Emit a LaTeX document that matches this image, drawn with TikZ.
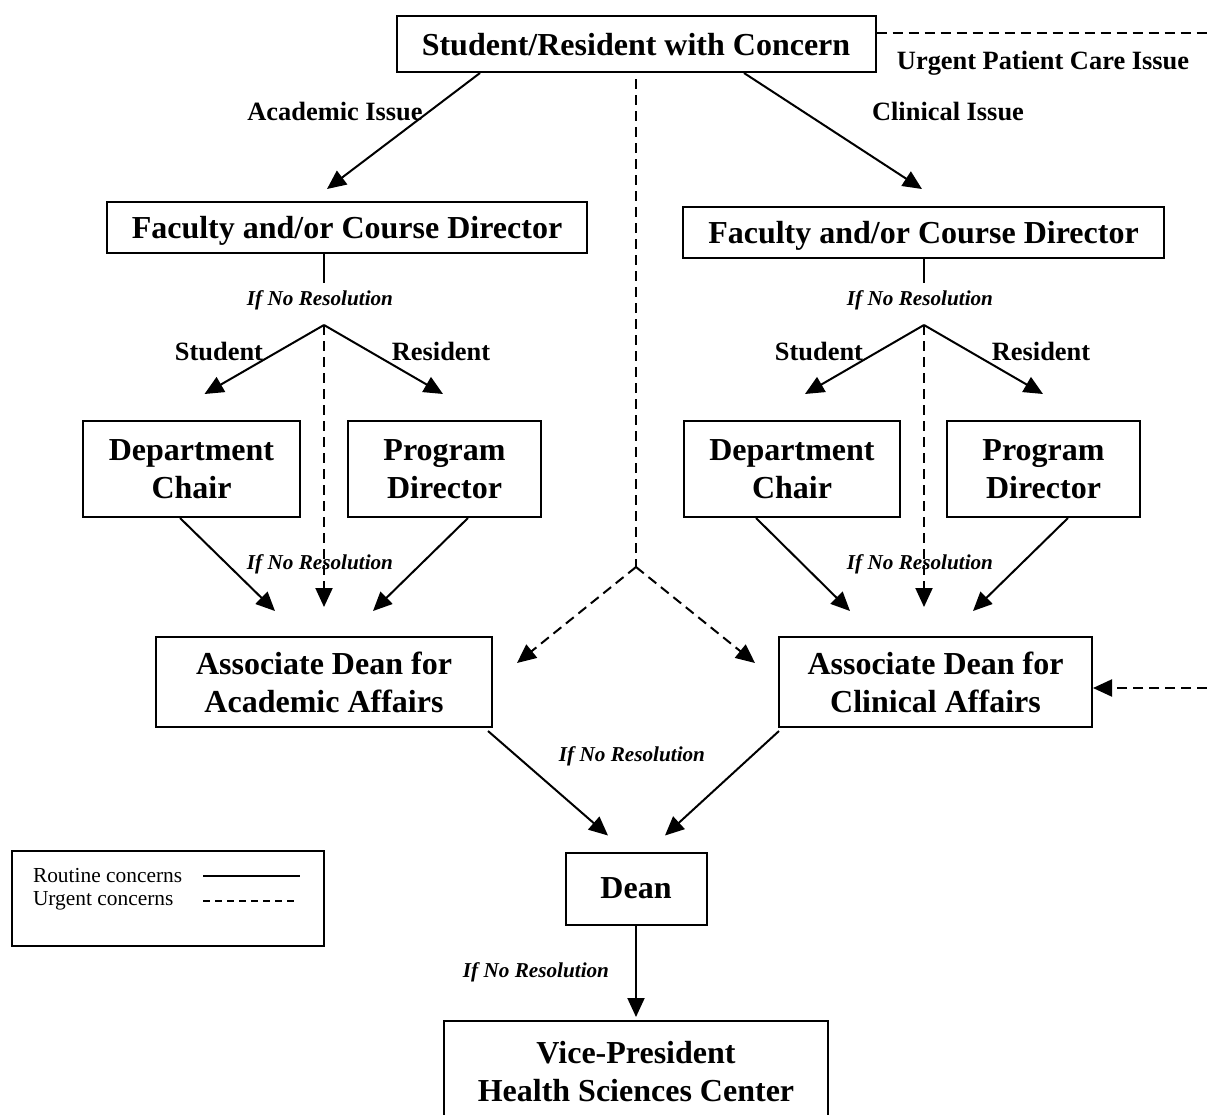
\documentclass[tikz,border=0pt]{standalone}
\usepackage{fontspec}
\setmainfont{Liberation Serif}
\usetikzlibrary{arrows.meta}

\begin{document}
\begin{tikzpicture}[x=0.5pt,y=-0.5pt,line width=1pt,
    box/.style={draw,inner sep=0pt,align=center,text depth=0pt,font=\fontsize{16}{19}\selectfont\bfseries},
    lab/.style={font=\fontsize{13.2}{15}\selectfont\bfseries},
    iflab/.style={font=\fontsize{10.6}{12}\selectfont\bfseries\itshape},
    urgent/.style={dash pattern=on 5pt off 3pt},
    >={Triangle[length=9.5pt,width=8.5pt]}]
    \useasboundingbox (0,0) rectangle (1207,1115);

    \node[box,minimum width=239.5pt,minimum height=28pt] (top) at (636,44) {Student/Resident with Concern};
    \node[box,minimum width=240pt,minimum height=25.5pt] (facL) at (347,227.5) {Faculty and/or Course Director};
    \node[box,minimum width=240.5pt,minimum height=25.5pt] (facR) at (923.5,232.5) {Faculty and/or Course Director};
    \node[box,minimum width=108.5pt,minimum height=48pt] (deptL) at (191.5,469) {Department\\Chair};
    \node[box,minimum width=96.5pt,minimum height=48pt] (progL) at (444.5,469) {Program\\Director};
    \node[box,minimum width=108pt,minimum height=48pt] (deptR) at (792,469) {Department\\Chair};
    \node[box,minimum width=96.5pt,minimum height=48pt] (progR) at (1043.5,469) {Program\\Director};
    \node[box,minimum width=168pt,minimum height=45pt] (assocL) at (324,682) {Associate Dean for\\Academic Affairs};
    \node[box,minimum width=156.5pt,minimum height=45pt] (assocR) at (935.5,682) {Associate Dean for\\Clinical Affairs};
    \node[box,minimum width=70.5pt,minimum height=36pt] (dean) at (636,888.5) {Dean};
    \node[box,minimum width=192pt,minimum height=50pt] (vp) at (636,1071) {Vice-President\\Health Sciences Center};

    % labels
    \node[lab] (acad) at (335,111) {Academic Issue};
    \node[lab] (clin) at (948,111) {Clinical Issue};
    \node[lab] (urg) at (1043,63) {Urgent Patient Care Issue};
    \node[lab] (stuL) at (219,351) {Student};
    \node[lab] (resL) at (441,351) {Resident};
    \node[lab] (stuR) at (819,351) {Student};
    \node[lab] (resR) at (1041,351) {Resident};
    \node[iflab] (if1) at (320,300) {If No Resolution};
    \node[iflab] (if2) at (920,300) {If No Resolution};
    \node[iflab] (if3) at (320,564) {If No Resolution};
    \node[iflab] (if4) at (920,564) {If No Resolution};
    \node[iflab] (if5) at (632,756) {If No Resolution};
    \node[iflab] (if6) at (536,972) {If No Resolution};

    \coordinate (splitL) at (324,325);
    \coordinate (splitR) at (924,325);
    \coordinate (mid) at (636,567);
    \coordinate (edgeT) at (1207,33);
    \coordinate (edgeR) at (1207,688);

    % routine concerns
    \draw[->] ([xshift=-78pt]top.south) -- ([xshift=-10pt,yshift=6pt]facL.north);
    \draw[->] ([xshift=54pt]top.south) -- ([xshift=-0.75pt,yshift=8.5pt]facR.north);
    \draw ([xshift=-11.5pt]facL.south) -- ++(0,29);
    \draw ([xshift=0.25pt]facR.south) -- ++(0,24);
    \draw[->] (splitL) -- ([xshift=6.5pt,yshift=13pt]deptL.north);
    \draw[->] (splitL) -- ([xshift=-0.75pt,yshift=13pt]progL.north);
    \draw[->] (splitR) -- ([xshift=6.5pt,yshift=13pt]deptR.north);
    \draw[->] (splitR) -- ([xshift=-0.25pt,yshift=13pt]progR.north);
    \draw[->] ([xshift=-5.75pt]deptL.south) -- ([xshift=-24.5pt,yshift=12.5pt]assocL.north);
    \draw[->] ([xshift=11.75pt]progL.south) -- ([xshift=24.5pt,yshift=12.5pt]assocL.north);
    \draw[->] ([xshift=-18pt]deptR.south) -- ([xshift=-42.75pt,yshift=12.5pt]assocR.north);
    \draw[->] ([xshift=12.25pt]progR.south) -- ([xshift=18.75pt,yshift=12.5pt]assocR.north);
    \draw[->] ([xshift=-2.5pt,yshift=-1.5pt]assocL.south east) -- ([xshift=-14pt,yshift=8pt]dean.north);
    \draw[->] ([xshift=0.5pt,yshift=-1.5pt]assocR.south west) -- ([xshift=14.5pt,yshift=8pt]dean.north);
    \draw[->,shorten >=1.5pt] (dean.south) -- (dean.south |- vp.north);

    % urgent concerns
    \draw[urgent] ([yshift=-3pt]top.south) -- (mid);
    \draw[urgent,->] (mid) -- ([xshift=12pt,yshift=9.5pt]assocL.east);
    \draw[urgent,->] (mid) -- ([xshift=-11.5pt,yshift=9.5pt]assocR.west);
    \draw[urgent,->] (splitL) -- ([yshift=14.5pt]assocL.north);
    \draw[urgent,->] (splitR) -- ([xshift=-5.75pt,yshift=14.5pt]assocR.north);
    \draw[urgent] ([yshift=5.5pt]top.east) -- (edgeT);
    \draw[urgent,->] (edgeR) -- ([yshift=-3pt]assocR.east);

    % legend
    \node[draw,minimum width=156pt,minimum height=47.5pt] (legend) at (168,898.5) {};
    \node[anchor=west,inner sep=0pt,font=\fontsize{10.7}{12}\selectfont] (rout) at (32,876) {Routine concerns};
    \node[anchor=west,inner sep=0pt,font=\fontsize{10.7}{12}\selectfont] (urgc) at (32,901) {Urgent concerns};
    \draw[line width=0.7pt] (rout.east -| 203,0) -- ++(97,0);
    \draw[line width=0.7pt,dash pattern=on 3.5pt off 2.5pt] (urgc.east -| 203,0) -- ++(92,0);
\end{tikzpicture}
\end{document}
